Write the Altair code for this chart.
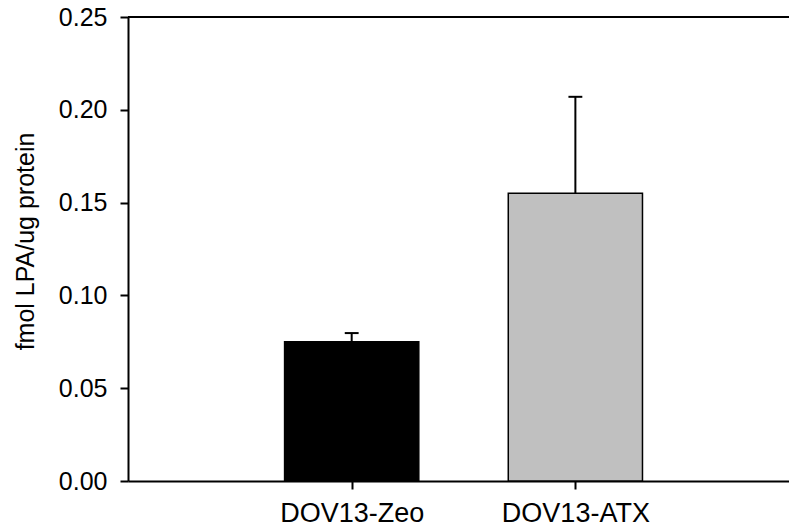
import altair as alt
import pandas as pd

categories = ["DOV13-Zeo", "DOV13-ATX"]
positions = [1, 2]
means = [0.075, 0.155]
errors = [0.0047, 0.052]
fill_colors = ["#000000", "#c0c0c0"]
y_ticks = [0.0, 0.05, 0.10, 0.15, 0.20, 0.25]
y_title = "fmol LPA/ug protein"

df = pd.DataFrame({
    "cat": categories,
    "pos": positions,
    "mean": means,
    "err": errors,
    "color": fill_colors,
})

x_domain = [0, 2.955]
y_domain = [0, 0.25]
half_bar = 0.3
half_cap = 0.031

label_expr = " : ".join(
    f"datum.value == {p} ? '{c}'" for p, c in zip(positions, categories)
) + " : ''"

x_scale = alt.Scale(domain=x_domain, nice=False, zero=False)
y_scale = alt.Scale(domain=y_domain, nice=False)

base = alt.Chart(df).transform_calculate(
    x0=f"datum.pos - {half_bar}",
    x1=f"datum.pos + {half_bar}",
    c0=f"datum.pos - {half_cap}",
    c1=f"datum.pos + {half_cap}",
    top="datum.mean + datum.err",
)

bars = base.mark_bar(stroke="black", strokeWidth=1.5).encode(
    x=alt.X(
        "x0:Q",
        scale=x_scale,
        axis=alt.Axis(
            values=positions,
            labelExpr=label_expr,
            title=None,
            labelFontSize=27,
            labelPadding=11,
        ),
    ),
    x2="x1:Q",
    y=alt.Y(
        "mean:Q",
        scale=y_scale,
        axis=alt.Axis(
            values=y_ticks,
            format=".2f",
            title=y_title,
            labelFontSize=25,
            labelPadding=13,
            titleFontSize=25,
            titlePadding=20,
            titleY=224,
        ),
    ),
    y2=alt.datum(0),
    fill=alt.Color("color:N", scale=None),
)

err = base.mark_rule(strokeWidth=2, color="black").encode(
    x="pos:Q", y="mean:Q", y2="top:Q"
)

caps = base.mark_rule(strokeWidth=2, color="black").encode(
    x="c0:Q", x2="c1:Q", y="top:Q"
)

topline = alt.Chart(pd.DataFrame({"a": [0]})).mark_rule(
    strokeWidth=2, color="black"
).encode(
    x=alt.datum(x_domain[0]),
    x2=alt.datum(x_domain[1]),
    y=alt.datum(y_domain[1]),
)

chart = alt.layer(bars, err, caps, topline).properties(
    width=661,
    height=464,
    autosize=alt.AutoSizeParams(type="none"),
    padding={"left": 128, "top": 17, "right": 0, "bottom": 50},
).configure_view(
    stroke=None
).configure_axis(
    grid=False,
    domainColor="black",
    domainWidth=2,
    tickColor="black",
    tickWidth=2,
    tickSize=8,
    labelFont="Liberation Sans",
    labelColor="black",
    titleFont="Liberation Sans",
    titleFontWeight="normal",
    titleColor="black",
)

chart.save("out.html", embed_options={"renderer": "svg", "actions": False})
